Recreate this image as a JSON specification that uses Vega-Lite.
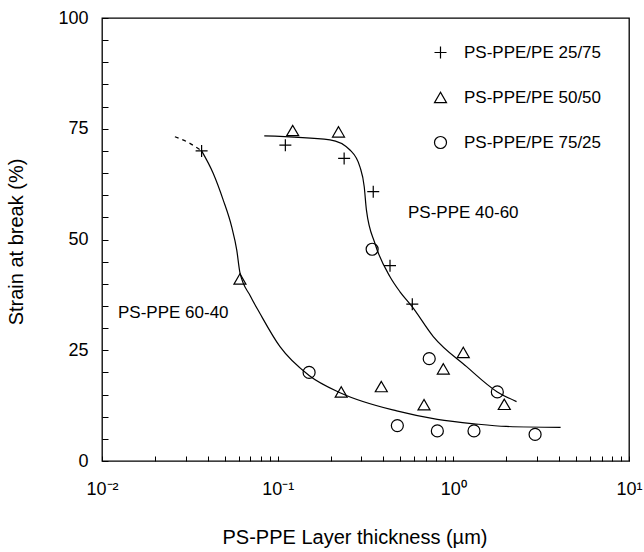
{
  "$schema": "https://vega.github.io/schema/vega-lite/v6.json",
  "width": 527,
  "height": 443,
  "autosize": "none",
  "padding": {"left": 102, "top": 18, "right": 15, "bottom": 91},
  "background": "white",
  "config": {
    "view": {"stroke": "black", "strokeWidth": 1.3},
    "font": "Liberation Sans",
    "axis": {"domain": false, "grid": false, "ticks": true, "tickColor": "black", "tickWidth": 1, "labelColor": "black", "titleColor": "black", "titleFontWeight": "normal", "labelFont": "Liberation Sans", "titleFont": "Liberation Sans"}
  },
  "datasets": {
    "pts": [
      {"x": 0.0369, "y": 70.0, "series": "PS-PPE/PE 25/75"},
      {"x": 0.1106, "y": 71.3, "series": "PS-PPE/PE 25/75"},
      {"x": 0.239, "y": 68.3, "series": "PS-PPE/PE 25/75"},
      {"x": 0.350, "y": 60.8, "series": "PS-PPE/PE 25/75"},
      {"x": 0.436, "y": 44.1, "series": "PS-PPE/PE 25/75"},
      {"x": 0.584, "y": 35.4, "series": "PS-PPE/PE 25/75"},
      {"x": 0.0610, "y": 41.1, "series": "PS-PPE/PE 50/50"},
      {"x": 0.1218, "y": 74.6, "series": "PS-PPE/PE 50/50"},
      {"x": 0.222, "y": 74.3, "series": "PS-PPE/PE 50/50"},
      {"x": 0.230, "y": 15.6, "series": "PS-PPE/PE 50/50"},
      {"x": 0.389, "y": 16.8, "series": "PS-PPE/PE 50/50"},
      {"x": 0.681, "y": 12.7, "series": "PS-PPE/PE 50/50"},
      {"x": 0.877, "y": 20.8, "series": "PS-PPE/PE 50/50"},
      {"x": 1.139, "y": 24.5, "series": "PS-PPE/PE 50/50"},
      {"x": 1.95, "y": 12.8, "series": "PS-PPE/PE 50/50"},
      {"x": 0.151, "y": 20.0, "series": "PS-PPE/PE 75/25"},
      {"x": 0.345, "y": 47.8, "series": "PS-PPE/PE 75/25"},
      {"x": 0.480, "y": 8.0, "series": "PS-PPE/PE 75/25"},
      {"x": 0.729, "y": 23.1, "series": "PS-PPE/PE 75/25"},
      {"x": 0.811, "y": 6.8, "series": "PS-PPE/PE 75/25"},
      {"x": 1.311, "y": 6.8, "series": "PS-PPE/PE 75/25"},
      {"x": 1.78, "y": 15.6, "series": "PS-PPE/PE 75/25"},
      {"x": 2.92, "y": 6.0, "series": "PS-PPE/PE 75/25"}
    ],
    "solid": [
      {"x": 0.0369, "y": 70.0, "curve": "60-40"},
      {"x": 0.0430, "y": 64.9, "curve": "60-40"},
      {"x": 0.0490, "y": 58.9, "curve": "60-40"},
      {"x": 0.0547, "y": 52.9, "curve": "60-40"},
      {"x": 0.0585, "y": 47.6, "curve": "60-40"},
      {"x": 0.0610, "y": 42.5, "curve": "60-40"},
      {"x": 0.0700, "y": 37.2, "curve": "60-40"},
      {"x": 0.0793, "y": 33.3, "curve": "60-40"},
      {"x": 0.1031, "y": 25.8, "curve": "60-40"},
      {"x": 0.151, "y": 19.3, "curve": "60-40"},
      {"x": 0.230, "y": 15.3, "curve": "60-40"},
      {"x": 0.476, "y": 11.3, "curve": "60-40"},
      {"x": 0.811, "y": 9.4, "curve": "60-40"},
      {"x": 1.31, "y": 8.4, "curve": "60-40"},
      {"x": 2.0, "y": 7.8, "curve": "60-40"},
      {"x": 4.08, "y": 7.6, "curve": "60-40"},
      {"x": 0.0839, "y": 73.4, "curve": "40-60"},
      {"x": 0.1986, "y": 72.5, "curve": "40-60"},
      {"x": 0.258, "y": 70.2, "curve": "40-60"},
      {"x": 0.294, "y": 66.4, "curve": "40-60"},
      {"x": 0.311, "y": 61.9, "curve": "40-60"},
      {"x": 0.320, "y": 56.7, "curve": "40-60"},
      {"x": 0.358, "y": 49.1, "curve": "40-60"},
      {"x": 0.436, "y": 41.6, "curve": "40-60"},
      {"x": 0.497, "y": 38.2, "curve": "40-60"},
      {"x": 0.584, "y": 34.8, "curve": "40-60"},
      {"x": 0.769, "y": 28.1, "curve": "40-60"},
      {"x": 1.19, "y": 21.3, "curve": "40-60"},
      {"x": 1.78, "y": 15.6, "curve": "40-60"},
      {"x": 2.29, "y": 13.4, "curve": "40-60"}
    ],
    "dashed": [
      {"x": 0.0260, "y": 73.2, "curve": "60-40 ext"},
      {"x": 0.0310, "y": 71.9, "curve": "60-40 ext"},
      {"x": 0.0369, "y": 70.0, "curve": "60-40 ext"}
    ],
    "labels": [
      {"x": 0.552, "y": 56.0, "label": "PS-PPE 40-60"},
      {"x": 0.01233, "y": 33.4, "label": "PS-PPE 60-40"}
    ]
  },
  "encoding": {
    "x": {
      "field": "x", "type": "quantitative",
      "scale": {"type": "log", "domain": [0.01, 10], "nice": false},
      "axis": {
        "values": [0.01, 0.02, 0.03, 0.04, 0.05, 0.06, 0.07, 0.08, 0.09, 0.1, 0.2, 0.3, 0.4, 0.5, 0.6, 0.7, 0.8, 0.9, 1, 2, 3, 4, 5, 6, 7, 8, 9, 10],
        "labelExpr": "datum.value == 0.01 ? '10⁻²' : datum.value == 0.1 ? '10⁻¹' : datum.value == 1 ? '10⁰' : datum.value == 10 ? '10¹' : ''",
        "tickSize": -5,
        "labelFontSize": 18,
        "labelPadding": 24,
        "labelFlush": false,
        "labelOverlap": false,
        "title": "PS-PPE Layer thickness (µm)",
        "titleFontSize": 20,
        "titleX": 252.5,
        "titleY": 76,
        "titleAlign": "center",
        "titleBaseline": "middle"
      }
    },
    "y": {
      "field": "y", "type": "quantitative",
      "scale": {"domain": [0, 100], "nice": false},
      "axis": {
        "values": [0, 5, 10, 15, 20, 25, 30, 35, 40, 45, 50, 55, 60, 65, 70, 75, 80, 85, 90, 95, 100],
        "labelExpr": "datum.value % 25 == 0 ? datum.label : ''",
        "tickSize": -6,
        "labelFontSize": 18,
        "labelPadding": 20,
        "labelOverlap": false,
        "title": "Strain at break (%)",
        "titleFontSize": 20,
        "titleX": -86,
        "titleY": 223.5,
        "titleAngle": -90,
        "titleAlign": "center",
        "titleBaseline": "middle"
      }
    }
  },
  "layer": [
    {
      "data": {"name": "solid"},
      "mark": {"type": "line", "interpolate": "monotone", "color": "black", "strokeWidth": 1.2},
      "encoding": {"detail": {"field": "curve"}}
    },
    {
      "data": {"name": "dashed"},
      "mark": {"type": "line", "interpolate": "monotone", "color": "black", "strokeWidth": 1.2, "strokeDash": [4, 4]},
      "encoding": {}
    },
    {
      "data": {"name": "pts"},
      "mark": {"type": "point", "filled": false, "color": "black", "strokeWidth": 1.2, "size": 144, "opacity": 1},
      "encoding": {
        "shape": {
          "field": "series", "type": "nominal",
          "scale": {"domain": ["PS-PPE/PE 25/75", "PS-PPE/PE 50/50", "PS-PPE/PE 75/25"], "range": ["M-1,0L1,0M0,-1L0,1", "triangle-up", "circle"]},
          "legend": {
            "orient": "none", "legendX": 330, "legendY": 26, "title": null,
            "labelFontSize": 17, "labelFont": "Liberation Sans", "labelColor": "black",
            "symbolSize": 144, "symbolStrokeWidth": 1.2, "symbolStrokeColor": "black", "symbolFillColor": "transparent",
            "rowPadding": 27, "labelOffset": 15, "padding": 0
          }
        }
      }
    },
    {
      "data": {"name": "labels"},
      "mark": {"type": "text", "align": "left", "baseline": "middle", "fontSize": 17, "font": "Liberation Sans", "color": "black"},
      "encoding": {"text": {"field": "label"}}
    }
  ]
}
